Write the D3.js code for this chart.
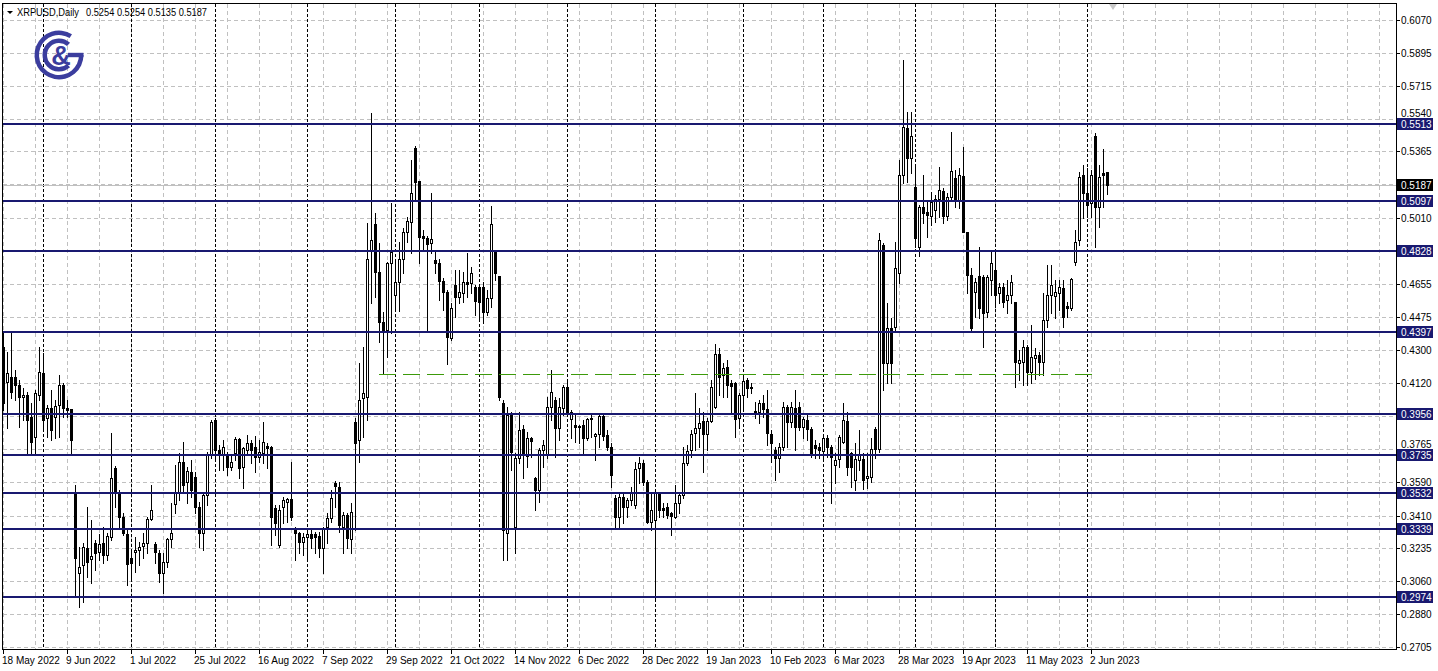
<!DOCTYPE html>
<html><head><meta charset="utf-8">
<script src="https://cdn.jsdelivr.net/npm/d3@7"></script>
<style>
body{margin:0;background:#fff;}
svg{display:block;font-family:"Liberation Sans",Arial,sans-serif;}
</style>
</head><body>
<svg id="chart" width="1438" height="671"></svg>
<script>
// ---------------- DATA ----------------
const symbolName = "XRPUSD,Daily";
const firstBarDate = "2022-05-18";   // daily bars, weekdays only

const open = [
.4314,.4127,.4153,.4153,.4111,.4046,.4057,.3939,.3831,.4057,
.4175,.3934,.3987,.3939,.4003,.4111,.3987,.3982,.3531,.3102,
.3145,.3236,.3177,.3263,.3214,.3263,.3198,.3295,.3665,.3536,
.3402,.3312,.3182,.3214,.3225,.3247,.3263,.3392,.3258,.3209,
.3102,.3161,.3285,.3473,.3536,.3697,.3590,.3644,.3617,.3456,
.3317,.3520,.3735,.3923,.3762,.3735,.3735,.3670,.3746,.3821,
.3670,.3762,.3800,.3778,.3724,.3746,.3784,.3778,.3451,.3252,
.3456,.3483,.3499,.3343,.3317,.3268,.3295,.3312,.3312,.3301,
.3236,.3348,.3397,.3585,.3563,.3348,.3413,.3285,.3912,.3816,
.4041,.4046,.4836,.4976,.4717,.4449,.4406,.4766,.4594,.4663,
.4788,.4932,.4986,.5383,.5206,.4911,.4900,.4873,.4782,.4766,
.4669,.4610,.4363,.4647,.4583,.4605,.4663,.4658,.4636,.4636,
.4636,.4502,.4578,.4825,.4696,.4014,.3317,.3950,.3348,.3719,
.3874,.3730,.3826,.3612,.3547,.3762,.3735,.3992,.4030,.3880,
.3987,.4100,.3929,.3896,.3891,.3896,.3826,.3934,.3837,.3848,
.3945,.3842,.3778,.3504,.3402,.3509,.3456,.3494,.3467,.3665,
.3692,.3590,.3375,.3386,.3531,.3451,.3456,.3424,.3402,.3478,
.3520,.3692,.3762,.3853,.3880,.3918,.3848,.3918,.3992,.4278,
.4164,.4207,.4122,.4122,.3934,.4057,.4138,.4095,.3972,.3966,
.4014,.3982,.3848,.3762,.3719,.3778,.3992,.3912,.3987,.3992,
.3885,.3923,.3874,.3789,.3778,.3757,.3826,.3778,.3681,.3713,
.3805,.3918,.3746,.3601,.3708,.3713,.3612,.3617,.3874,.3767,
.4862,.4229,.4417,.4422,.4712,.5238,.5491,.5329,.5174,.4852,
.5066,.5039,.5018,.5050,.5109,.5152,.5018,.5120,.5222,.5104,
.5233,.4932,.4701,.4610,.4696,.4690,.4502,.4674,.4728,.4605,
.4636,.4567,.4594,.4556,.4229,.4234,.4314,.4180,.4256,.4272,
.4234,.4460,.4594,.4588,.4605,.4631,.4535,.4524,.4771,.4889,
.5238,.5142,.5088,.5448,.5066,.5249,.5254];

const high = [
.4390,.4288,.4390,.4191,.4138,.4095,.4073,.4014,.4084,.4314,
.4283,.4003,.4084,.4030,.4164,.4122,.4030,.3982,.3574,.3241,
.3263,.3456,.3386,.3279,.3312,.3348,.3317,.3853,.3676,.3547,
.3424,.3343,.3225,.3295,.3268,.3317,.3402,.3574,.3268,.3225,
.3209,.3290,.3478,.3681,.3746,.3805,.3670,.3708,.3644,.3483,
.3531,.3751,.3923,.3934,.3789,.3816,.3751,.3735,.3831,.3826,
.3778,.3842,.3816,.3837,.3816,.3912,.3800,.3784,.3467,.3467,
.3509,.3504,.3697,.3348,.3322,.3317,.3338,.3333,.3322,.3322,
.3348,.3424,.3547,.3596,.3590,.3429,.3424,.3478,.3934,.4229,
.4314,.4981,.5571,.5034,.4873,.4502,.4771,.5088,.4771,.4878,
.4954,.5012,.5319,.5394,.5206,.4943,.4911,.5142,.4825,.4788,
.4685,.4621,.4551,.4728,.4728,.4717,.4820,.4744,.4647,.4647,
.4663,.4621,.5072,.4836,.4696,.4030,.3992,.3966,.3746,.3966,
.3896,.3858,.3831,.3617,.3773,.3816,.4046,.4191,.4046,.4041,
.4111,.4127,.3977,.3950,.3896,.3923,.3934,.3950,.3853,.3961,
.3950,.3869,.3800,.3520,.3531,.3531,.3504,.3563,.3697,.3724,
.3708,.3601,.3531,.3547,.3536,.3478,.3478,.3429,.3574,.3531,
.3778,.3789,.3869,.4068,.3987,.3966,.3934,.4138,.4331,.4309,
.4229,.4245,.4138,.4127,.4068,.4164,.4148,.4122,.4019,.4030,
.4057,.4084,.3869,.3778,.3800,.4019,.4003,.4019,.4084,.4019,
.3939,.3950,.3885,.3816,.3800,.3831,.3842,.3789,.3746,.3842,
.4014,.3966,.3751,.3800,.3869,.3746,.3746,.3826,.3885,.4927,
.4873,.4551,.4470,.4878,.5319,.5855,.5576,.5576,.5281,.5077,
.5238,.5093,.5147,.5131,.5281,.5168,.5142,.5469,.5265,.5276,
.5388,.4932,.4739,.4685,.4852,.4701,.4701,.4825,.4825,.4658,
.4658,.4674,.4701,.4556,.4299,.4352,.4326,.4433,.4309,.4288,
.4605,.4755,.4755,.4674,.4674,.4674,.4556,.4685,.4943,.5254,
.5292,.5276,.5265,.5463,.5292,.5378,.5254];

const low = [
.3977,.3880,.4041,.4030,.3885,.3923,.3746,.3746,.3746,.4030,
.3869,.3831,.3816,.3826,.3831,.3939,.3939,.3746,.2973,.2919,
.2946,.3080,.3048,.3118,.3172,.3156,.3172,.3279,.3456,.3348,
.3306,.3037,.3064,.3107,.3145,.3182,.3209,.3386,.3156,.3053,
.2994,.3134,.3241,.3424,.3494,.3536,.3478,.3509,.3424,.3241,
.3225,.3467,.3719,.3708,.3655,.3655,.3628,.3655,.3708,.3612,
.3558,.3735,.3692,.3644,.3697,.3692,.3665,.3252,.3306,.3241,
.3370,.3375,.3386,.3172,.3209,.3198,.3182,.3236,.3209,.3187,
.3102,.3263,.3375,.3456,.3322,.3209,.3236,.3209,.3333,.3697,
.3831,.3923,.4551,.4583,.4341,.4170,.4261,.4390,.4513,.4508,
.4712,.4878,.4820,.5104,.4766,.4836,.4406,.4820,.4712,.4567,
.4513,.4224,.4352,.4475,.4551,.4556,.4583,.4605,.4486,.4470,
.4444,.4486,.4529,.4674,.4030,.3172,.3172,.3655,.3209,.3692,
.3612,.3670,.3724,.3440,.3483,.3670,.3719,.3923,.3724,.3816,
.3950,.3950,.3826,.3805,.3800,.3735,.3816,.3831,.3708,.3778,
.3816,.3762,.3563,.3348,.3343,.3370,.3402,.3467,.3451,.3585,
.3574,.3370,.3333,.2957,.3402,.3402,.3397,.3306,.3397,.3424,
.3504,.3681,.3724,.3762,.3778,.3644,.3762,.3912,.3987,.4057,
.4046,.4046,.3961,.3831,.3880,.3977,.4046,.4068,.3934,.3907,
.3939,.3789,.3697,.3601,.3644,.3762,.3778,.3885,.3762,.3869,
.3826,.3816,.3724,.3719,.3719,.3719,.3724,.3478,.3585,.3670,
.3800,.3628,.3563,.3547,.3655,.3552,.3558,.3590,.3719,.3751,
.4084,.4122,.4122,.4395,.4658,.5195,.5200,.5249,.4852,.4805,
.4981,.4905,.4970,.4986,.5012,.4981,.4997,.5104,.5066,.5061,
.4932,.4605,.4395,.4475,.4470,.4314,.4475,.4594,.4529,.4551,
.4529,.4497,.4551,.4100,.4138,.4111,.4111,.4122,.4143,.4164,
.4164,.4422,.4497,.4470,.4513,.4422,.4475,.4513,.4755,.4862,
.5007,.5012,.5012,.4852,.4959,.5066,.5135];

const close = [
.4014,.4175,.4073,.4111,.4046,.4057,.3923,.3805,.4068,.4180,
.3923,.3987,.3869,.3998,.4111,.3987,.3977,.3816,.3182,.3134,
.3241,.3161,.3193,.3209,.3258,.3198,.3301,.3612,.3536,.3402,
.3317,.3151,.3156,.3225,.3241,.3263,.3392,.3440,.3214,.3102,
.3161,.3285,.3317,.3536,.3697,.3574,.3650,.3547,.3456,.3317,
.3520,.3735,.3912,.3762,.3735,.3778,.3670,.3697,.3821,.3665,
.3773,.3800,.3762,.3724,.3751,.3805,.3773,.3402,.3370,.3440,
.3494,.3499,.3402,.3317,.3268,.3295,.3312,.3290,.3295,.3236,
.3343,.3397,.3504,.3569,.3359,.3413,.3290,.3429,.3800,.4030,
.4068,.4788,.4889,.4717,.4449,.4401,.4766,.4825,.4663,.4788,
.4932,.4992,.5142,.5200,.4905,.4900,.4868,.4895,.4766,.4669,
.4610,.4368,.4524,.4583,.4610,.4663,.4653,.4712,.4562,.4556,
.4502,.4578,.4976,.4712,.4046,.3333,.3950,.3751,.3719,.3869,
.3735,.3826,.3811,.3547,.3762,.3789,.3992,.4073,.3880,.3992,
.4100,.3966,.3966,.3885,.3885,.3826,.3929,.3929,.3848,.3945,
.3837,.3778,.3628,.3402,.3509,.3456,.3494,.3536,.3660,.3692,
.3590,.3375,.3440,.3531,.3440,.3440,.3413,.3408,.3478,.3520,
.3692,.3757,.3848,.3880,.3907,.3848,.3918,.4100,.4278,.4153,
.4202,.4111,.4106,.3929,.4057,.4133,.4095,.4100,.3966,.4014,
.3982,.3853,.3800,.3719,.3778,.3992,.3912,.3992,.3885,.3885,
.3929,.3874,.3735,.3773,.3762,.3826,.3778,.3724,.3708,.3831,
.3923,.3670,.3670,.3713,.3740,.3601,.3623,.3767,.3767,.4889,
.4229,.4417,.4229,.4739,.5238,.5496,.5329,.5448,.4900,.5066,
.5034,.5023,.5093,.5109,.5158,.5018,.5120,.5260,.5104,.5238,
.4932,.4701,.4417,.4663,.4524,.4497,.4690,.4766,.4594,.4636,
.4556,.4594,.4663,.4234,.4245,.4314,.4180,.4261,.4272,.4234,
.4460,.4594,.4647,.4610,.4636,.4475,.4524,.4680,.4878,.5227,
.5142,.5077,.5238,.5066,.5227,.5238,.5187];

const priceTicks = [0.6070,0.5895,0.5715,0.5540,0.5365,0.5190,0.5010,0.4835,0.4655,0.4475,
                    0.4300,0.4120,0.3945,0.3765,0.3590,0.3410,0.3235,0.3060,0.2880,0.2705];
const dateTickLabels = ["18 May 2022","9 Jun 2022","1 Jul 2022","25 Jul 2022","16 Aug 2022","7 Sep 2022",
  "29 Sep 2022","21 Oct 2022","14 Nov 2022","6 Dec 2022","28 Dec 2022","19 Jan 2023","10 Feb 2023",
  "6 Mar 2023","28 Mar 2023","19 Apr 2023","11 May 2023","2 Jun 2023"];
const dateTickEvery = 16;   // bars between time labels
const levelPrices = [0.5513,0.5097,0.4828,0.4397,0.3956,0.3735,0.3532,0.3339,0.2974];
const trendPrice = 0.4170, trendFromBar = 94, trendToBar = 272.25;

// ---------------- LAYOUT ----------------
const svg = d3.select("#chart");
const L = 3, R = 1397, T = 4, B = 650;
const x = d3.scaleLinear().domain([0, 348.5]).range([3, 1397]);
const y = d3.scaleLinear().domain([0.2705, 0.6070]).range([647, 20]);
const px = i => Math.round(x(i));
const py = p => Math.round(y(p));

// trading dates
const dates = [];
{ let d = new Date(firstBarDate + "T00:00:00Z");
  while (dates.length < open.length) { const w = d.getUTCDay(); if (w !== 0 && w !== 6) dates.push(new Date(d)); d.setUTCDate(d.getUTCDate() + 1); } }
const monthStarts = d3.range(1, dates.length).filter(i => dates[i].getUTCMonth() !== dates[i-1].getUTCMonth());

svg.append("defs").append("clipPath").attr("id","plotclip")
  .append("rect").attr("x",L).attr("y",T).attr("width",R-L).attr("height",B-T);

const plot = svg.append("g").attr("clip-path","url(#plotclip)").attr("shape-rendering","crispEdges");

// grid
const gridCols = d3.range(0, 349, 8);
plot.selectAll("line.vg").data(gridCols).join("line")
  .attr("x1",d=>px(d)+0.5).attr("x2",d=>px(d)+0.5).attr("y1",T).attr("y2",B)
  .attr("stroke","#c0c0c0").attr("stroke-dasharray","4,3");
plot.selectAll("line.hg").data(priceTicks).join("line")
  .attr("x1",L).attr("x2",R).attr("y1",d=>py(d)+0.5).attr("y2",d=>py(d)+0.5)
  .attr("stroke","#c0c0c0").attr("stroke-dasharray","4,3");

// month separators
plot.selectAll("line.sep").data(monthStarts).join("line")
  .attr("x1",d=>px(d)+0.5).attr("x2",d=>px(d)+0.5).attr("y1",T).attr("y2",B)
  .attr("stroke","#000").attr("stroke-dasharray","3,2");

// current price line
const lastClose = close[close.length-1];
plot.append("line").attr("x1",L).attr("x2",R).attr("y1",py(lastClose)+0.5).attr("y2",py(lastClose)+0.5)
  .attr("stroke","#c0c0c0");

// candles
const bars = open.map((o,i)=>({i, o, h:high[i], l:low[i], c:close[i]}));
plot.selectAll("line.wick").data(bars).join("line")
  .attr("x1",d=>px(d.i)+0.5).attr("x2",d=>px(d.i)+0.5)
  .attr("y1",d=>py(d.h)).attr("y2",d=>py(d.l)+1)
  .attr("stroke","#000");
plot.selectAll("rect.body").data(bars).join("rect")
  .each(function(d){
    const s = d3.select(this);
    const up = d.c >= d.o;
    const top = py(Math.max(d.o,d.c)), bot = py(Math.min(d.o,d.c));
    if (up) {
      s.attr("x",px(d.i)-0.5).attr("y",top+0.5).attr("width",2).attr("height",Math.max(0,bot-top))
       .attr("fill","#fff").attr("stroke","#000");
    } else {
      s.attr("x",px(d.i)-1).attr("y",top).attr("width",3).attr("height",Math.max(1,bot-top+1))
       .attr("fill","#000");
    }
  });

// horizontal levels
plot.selectAll("line.lvl").data(levelPrices).join("line")
  .attr("x1",L).attr("x2",R).attr("y1",d=>y(d)).attr("y2",d=>y(d))
  .attr("stroke","#191970").attr("stroke-width",2);

// green dashed support
plot.append("line").attr("x1",x(trendFromBar)).attr("x2",x(trendToBar))
  .attr("y1",py(trendPrice)+0.5).attr("y2",py(trendPrice)+0.5)
  .attr("stroke","#3c9a0a").attr("stroke-width",1.2).attr("stroke-dasharray","17,7");

// frame
svg.append("rect").attr("x",L-0.5).attr("y",T-0.5).attr("width",R-L).attr("height",B-T)
  .attr("fill","none").attr("stroke","#000").attr("shape-rendering","crispEdges");

// chart-shift marker
svg.append("path").attr("d",`M${x(277.5)-4},${T} L${x(277.5)+4},${T} L${x(277.5)},${T+6} Z`).attr("fill","#c8c8c8");

// right price axis (labels hidden under a price box are skipped, close ones nudged off it)
const boxPrices = levelPrices.concat([lastClose]);
const tickInfo = priceTicks.map(p=>{
  const ty = y(p);
  let near = null;
  boxPrices.forEach(b=>{ const dy = ty - y(b); if (Math.abs(dy) < 11 && (near===null || Math.abs(dy) < Math.abs(near))) near = dy; });
  let hidden = false, ly = ty + 4;
  if (near !== null) {
    if (Math.abs(near) < 4) hidden = true;
    else if (near < 0) ly = ty - near + (y(0) * 0) - 6 + (ty - (ty - near)) ; // baseline at box top
  }
  return {p, ty, hidden, ly, near};
});
tickInfo.forEach(t=>{
  if (t.near !== null && !t.hidden) {
    const boxTop = Math.round(t.ty - t.near) - 6, boxBot = Math.round(t.ty - t.near) + 6;
    t.ly = t.near < 0 ? boxTop - 1 : boxBot + 9;
  }
});
const ax = svg.append("g").attr("font-size","10px").attr("fill","#000");
ax.selectAll("line.tk").data(priceTicks).join("line")
  .attr("x1",R).attr("x2",R+3).attr("y1",d=>py(d)+0.5).attr("y2",d=>py(d)+0.5)
  .attr("stroke","#000").attr("shape-rendering","crispEdges");
ax.selectAll("text.pt").data(tickInfo.filter(t=>!t.hidden)).join("text")
  .attr("x",R+4).attr("y",t=>t.near===null ? py(t.p)+4 : t.ly).text(t=>t.p.toFixed(4));

// level price boxes
const boxes = svg.append("g").attr("font-size","10px");
levelPrices.forEach(p=>{
  boxes.append("rect").attr("x",R).attr("y",Math.round(y(p))-6).attr("width",36).attr("height",12).attr("fill","#191970");
  boxes.append("text").attr("x",R+4).attr("y",Math.round(y(p))+4).attr("fill","#fff").text(p.toFixed(4));
});
boxes.append("rect").attr("x",R).attr("y",py(lastClose)-6).attr("width",36).attr("height",12).attr("fill","#000");
boxes.append("text").attr("x",R+4).attr("y",py(lastClose)+4).attr("fill","#fff").text(lastClose.toFixed(4));

// bottom time axis
const tickBars = dateTickLabels.map((_,k)=>k*dateTickEvery);
const tx = svg.append("g").attr("font-size","10px");
tx.selectAll("line").data(tickBars).join("line")
  .attr("x1",d=>px(d)+0.5).attr("x2",d=>px(d)+0.5).attr("y1",B).attr("y2",B+4)
  .attr("stroke","#000").attr("shape-rendering","crispEdges");
tx.selectAll("text").data(tickBars).join("text")
  .attr("x",d=>px(d)-1).attr("y",B+14).text((d,k)=>dateTickLabels[k]);

// header
const n = open.length-1;
svg.append("path").attr("d","M7,11 L13,11 L10,14 Z").attr("fill","#000");
svg.append("text").attr("x",17).attr("y",16).attr("font-size","10px")
  .attr("textLength",62).attr("lengthAdjust","spacingAndGlyphs").text(symbolName);
svg.append("text").attr("x",86).attr("y",16).attr("font-size","10px")
  .attr("textLength",121).attr("lengthAdjust","spacingAndGlyphs")
  .text([open[n],high[n],low[n],close[n]].map(v=>v.toFixed(4)).join(" "));

// logo
const logoC = [59, 55], logoCol = "#3b3d9e";
const lg = svg.append("g").attr("transform",`translate(${logoC[0]},${logoC[1]})`);
const deg = Math.PI/180;
lg.append("path").attr("d", d3.arc()({innerRadius:20, outerRadius:24.5, startAngle:90*deg, endAngle:392*deg})).attr("fill",logoCol);
lg.append("rect").attr("x",9).attr("y",-2.2).attr("width",15.5).attr("height",4.4).attr("fill",logoCol);
lg.append("path").attr("d", d3.arc()({innerRadius:12, outerRadius:16.5, startAngle:138*deg, endAngle:402*deg})).attr("fill",logoCol);
lg.append("text").attr("x",2).attr("y",9.5).attr("text-anchor","middle").attr("font-size","27px")
  .attr("font-weight","bold").attr("fill",logoCol).text("&");
</script>
</body></html>
